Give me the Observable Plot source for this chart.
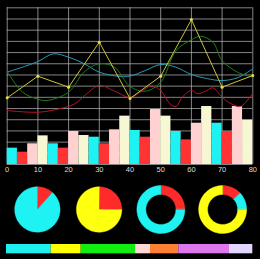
<!DOCTYPE html>
<html><head><meta charset="utf-8">
<script src="https://cdn.jsdelivr.net/npm/d3@7"></script>
<script src="https://cdn.jsdelivr.net/npm/@observablehq/plot@0.6"></script>
<style>
html,body{margin:0;padding:0;background:#fff;}
#wrap{width:260px;background:#000;}
#wrap svg{display:block;}
#foot{width:260px;height:21px;background:#fff;}
</style></head><body>
<div id="wrap"></div><div id="foot"></div>
<script>
// ---- data ----
const xTicks = [0, 10, 20, 30, 40, 50, 60, 70, 80];
const yGrid = [0, 10, 20, 30, 40, 50, 60, 70, 80, 90, 100, 110, 120, 130, 140];
const barValues = [14.6, 11, 18.5, 25.6, 18.5, 14.6, 29.5, 25.9, 24.4, 18.5, 31, 43.2,
                   30.4, 24.4, 49.1, 43.2, 29.5, 22, 36.9, 51.8, 36.9, 29.5, 51.8, 39.6];
const barColors = ["#1ff2f2", "#ff3333", "#ffd1d1", "#f7f7d4"];
const yellowX = [0, 10, 20, 30, 40, 50, 60, 70, 80];
const yellowY = [59.6, 78.9, 69.1, 109.3, 59, 78.9, 129.5, 69.1, 79.5];
const tealX = [0, 10, 15, 20, 25, 30, 37, 40, 45, 50, 55, 60, 65, 70, 75, 80];
const tealY = [82.5, 92, 98.9, 95.9, 90.2, 82.5, 78.6, 79, 84, 89.3, 86.9, 80.4, 76.8, 75, 77.5, 85.5];
const greenX = [0, 5, 10, 13, 20, 25, 30, 35, 40, 45, 50, 55, 60, 63, 67, 70, 75, 80];
const greenY = [83.1, 64.6, 58.3, 57.2, 64.6, 82.5, 90, 86.9, 69.7, 65.5, 73.5, 101.8, 111.4, 114.6, 109.3, 92.9, 82.5, 78];
const redX = [0, 10, 17, 22, 26, 30, 35, 40, 45, 47, 50, 53, 55, 57, 60, 62, 65, 67, 70, 73, 76, 80];
const redY = [48.2, 46.7, 49.8, 54.2, 63.4, 70.6, 65.5, 60.1, 67.6, 70.6, 66.1, 54.2, 51.8, 60.1, 66.1, 63.2, 66.1, 68.5, 60.1, 54.2, 51.8, 63.7];
const pieFractions = [[0.115, 0.885], [0.25, 0.75], [0.25, 0.75], [0.13, 0.12, 0.75]];
const pieColors = [["#ff2a2a", "#1ef2f2"], ["#ff2a2a", "#ffff10"], ["#ff2a2a", "#1ef2f2"], ["#ff2a2a", "#1ef2f2", "#ffff10"]];
const pieKinds = ["pie", "pie", "donut", "donut"];
const stripWidths = [44.7, 30, 54.3, 15, 28.3, 50.7, 23.3];
const stripColors = ["#1ef0f0", "#ffff00", "#11ee11", "#ffd6d6", "#ff8033", "#dd77ee", "#e2d6ff"];

// ---- main chart ----
const barW = 80 / barValues.length;
const bars = barValues.map((v, i) => ({x1: i * barW, x2: (i + 1) * barW, y: v, c: barColors[i % barColors.length]}));
const series = (xs, ys) => xs.map((x, i) => ({x, y: ys[i]}));
const font = "'Liberation Sans', Arial, sans-serif";

const main = Plot.plot({
  width: 260, height: 178,
  marginLeft: 6.7, marginRight: 7.7, marginTop: 7.3, marginBottom: 14,
  style: {background: "#000", color: "#ddd", fontFamily: font, fontSize: "7.5px"},
  x: {domain: [0, 80], ticks: xTicks, tickSize: 0, tickPadding: 2.5, label: null},
  y: {domain: [0, 140], axis: null},
  color: {type: "identity"},
  marks: [
    Plot.ruleY(yGrid, {stroke: "#bdbdbd", strokeWidth: 0.7}),
    Plot.ruleX(xTicks, {stroke: "#bdbdbd", strokeWidth: 0.7}),
    Plot.rectY(bars, {x1: "x1", x2: "x2", y: "y", fill: "c"}),
    Plot.line(series(tealX, tealY), {x: "x", y: "y", stroke: "#2b98b8", strokeWidth: 1, curve: "catmull-rom"}),
    Plot.line(series(greenX, greenY), {x: "x", y: "y", stroke: "#1e7d1e", strokeWidth: 1, curve: "catmull-rom"}),
    Plot.line(series(redX, redY), {x: "x", y: "y", stroke: "#b8142a", strokeWidth: 1, curve: "catmull-rom"}),
    Plot.line(series(yellowX, yellowY), {x: "x", y: "y", stroke: "#c9c43a", strokeWidth: 1}),
    Plot.dot(series(yellowX, yellowY), {x: "x", y: "y", r: 1.5, fill: "#e6e040"})
  ]
});
document.getElementById("wrap").appendChild(main);

// ---- pies ----
const unit = (253 - 6) / 4;
const pieH = 60;
const cy = 31 / unit;
const rPie = 22.7 / unit, rOut = 24 / unit, rIn = 15 / unit;
const arcPts = (cx, r, a0, a1) => {
  const n = Math.max(2, Math.ceil((a1 - a0) / (Math.PI * 2) * 90));
  return d3.range(n + 1).map(k => {
    const a = a0 + (a1 - a0) * k / n;
    return {x: cx + r * Math.sin(a), y: cy - r * Math.cos(a)};
  });
};
const pieMarks = [];
pieFractions.forEach((fr, i) => {
  const cx = i + 0.5;
  let a = 0;
  fr.forEach((f, j) => {
    const a0 = a, a1 = a + f * Math.PI * 2;
    a = a1;
    let pts;
    if (pieKinds[i] === "pie") {
      pts = [{x: cx, y: cy}, ...arcPts(cx, rPie, a0, a1)];
    } else {
      pts = [...arcPts(cx, rOut, a0, a1), ...arcPts(cx, rIn, a0, a1).reverse()];
    }
    const col = pieColors[i][j];
    pieMarks.push(Plot.line(pts, {x: "x", y: "y", fill: col, stroke: col, strokeWidth: 0.4, curve: "linear-closed"}));
  });
});
const pies = Plot.plot({
  width: 260, height: pieH,
  marginLeft: 6, marginRight: 7, marginTop: 0, marginBottom: 0,
  style: {background: "#000"},
  x: {domain: [0, 4], range: [6, 253], axis: null},
  y: {domain: [0, pieH / unit], range: [0, pieH], axis: null},
  marks: pieMarks
});
document.getElementById("wrap").appendChild(pies);

// ---- colour strip ----
const stripData = stripWidths.map((w, i) => ({w, c: stripColors[i]}));
const strip = Plot.plot({
  width: 260, height: 21,
  marginLeft: 6, marginRight: 7.7, marginTop: 6, marginBottom: 5.7,
  style: {background: "#000"},
  x: {domain: [0, d3.sum(stripWidths)], axis: null},
  color: {type: "identity"},
  marks: [Plot.barX(stripData, {x: "w", fill: "c"})]
});
document.getElementById("wrap").appendChild(strip);
</script>
</body></html>
